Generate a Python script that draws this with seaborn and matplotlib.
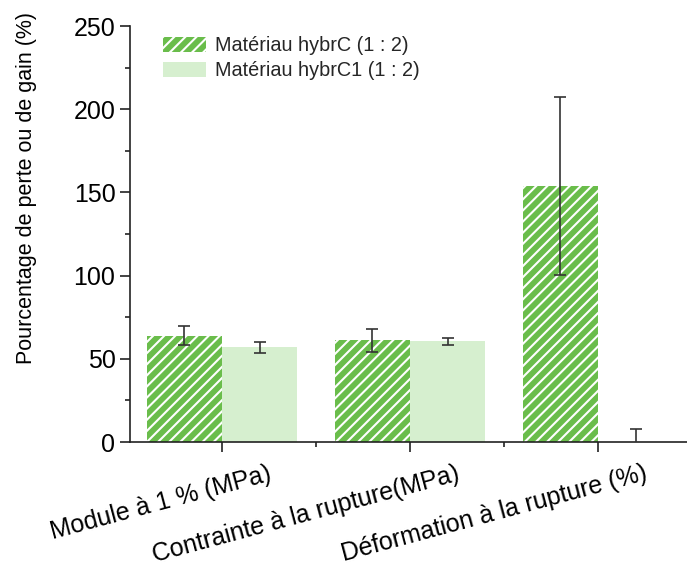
import numpy as np
import pandas as pd
import matplotlib
matplotlib.use("Agg")
import matplotlib.pyplot as plt
import matplotlib.patches as mpatches
import matplotlib.transforms as mtransforms
from matplotlib.ticker import MultipleLocator, FixedLocator
import seaborn as sns

categories = ["Module à 1 % (MPa)", "Contrainte à la rupture(MPa)", "Déformation à la rupture (%)"]
series = ["Matériau hybrC (1 : 2)", "Matériau hybrC1 (1 : 2)"]
hybrC_values = [64, 61, 154]
hybrC_errors = [5.5, 7, 53.5]
hybrC1_values = [57, 60.5, 0]
hybrC1_errors = [3.3, 2, 7.6]
y_label = "Pourcentage de perte ou de gain (%)"

GREEN = "#6abd4b"
LIGHT = "#d6efcf"

sns.set_theme(style="white")
plt.rcParams['font.family'] = ['Liberation Sans', 'DejaVu Sans']
plt.rcParams['hatch.linewidth'] = 1.5

df = pd.DataFrame({
    "cat": categories * 2,
    "series": [series[0]] * len(categories) + [series[1]] * len(categories),
    "value": hybrC_values + hybrC1_values,
})

fig = plt.figure(figsize=(6.87, 5.72), dpi=100)
ax = fig.add_axes([130 / 687, 1 - 442 / 572, (687 - 130) / 687, (442 - 26) / 572])

sns.barplot(data=df, x="cat", y="value", hue="series", order=categories,
            hue_order=series, palette=[GREEN, LIGHT], errorbar=None,
            width=0.8, saturation=1, legend=False, ax=ax)

n = len(categories)
bars = ax.patches
for i, p in enumerate(bars):
    p.set_linewidth(0)
    if i < n:
        p.set_hatch('///')
        p.set_edgecolor('white')
    else:
        p.set_edgecolor(LIGHT)

xs1 = [bars[i].get_x() + bars[i].get_width() / 2 for i in range(n)]
xs2 = [bars[n + i].get_x() + bars[n + i].get_width() / 2 for i in range(n)]
ekw = dict(fmt='none', ecolor='#333333', elinewidth=1.2, capsize=4, capthick=1.2, zorder=5)
ax.errorbar(xs1, hybrC_values, yerr=hybrC_errors, **ekw)
ax.errorbar(xs2, hybrC1_values, yerr=hybrC1_errors, **ekw)

ax.set_ylim(0, 250)
ax.set_xlim((130 - 222) / 188, (687 - 222) / 188)
ax.yaxis.set_major_locator(MultipleLocator(50))
ax.yaxis.set_minor_locator(MultipleLocator(25))
ax.xaxis.set_minor_locator(FixedLocator([0.5, 1.5]))
for s in ['top', 'right']:
    ax.spines[s].set_visible(False)
for s in ['left', 'bottom']:
    ax.spines[s].set_color('#222222')
    ax.spines[s].set_linewidth(1.2)
ax.tick_params(axis='both', which='major', direction='out', length=7, width=1.2,
               color='#222222', labelsize=18, labelcolor='black', left=True, bottom=True)
ax.tick_params(axis='both', which='minor', direction='out', length=3.5, width=1.2,
               color='#222222', left=True, bottom=True)

ax.set_xlabel("")
ax.set_xticks(range(n))
ax.set_xticklabels(categories, rotation=15, ha='right', va='top', rotation_mode='anchor')
offset = mtransforms.ScaledTranslation(46 / 100, -5 / 100, fig.dpi_scale_trans)
for lab in ax.get_xticklabels():
    lab.set_transform(lab.get_transform() + offset)

ax.set_ylabel(y_label, fontsize=15.5, color='black')
ax.yaxis.set_label_coords((37 - 130) / 557, (442 - 188) / 416)

handles = [
    mpatches.Patch(facecolor=GREEN, edgecolor='white', hatch='///', linewidth=0, label=series[0]),
    mpatches.Patch(facecolor=LIGHT, edgecolor=LIGHT, linewidth=0, label=series[1]),
]
fig.legend(handles=handles, loc='upper left', bbox_to_anchor=(163 / 687, 1 - 36 / 572),
           frameon=False, fontsize=14.3, borderpad=0, borderaxespad=0,
           handlelength=2.16, handleheight=0.8, handletextpad=0.45, labelspacing=0.32)

fig.savefig("out.png", dpi=100)
